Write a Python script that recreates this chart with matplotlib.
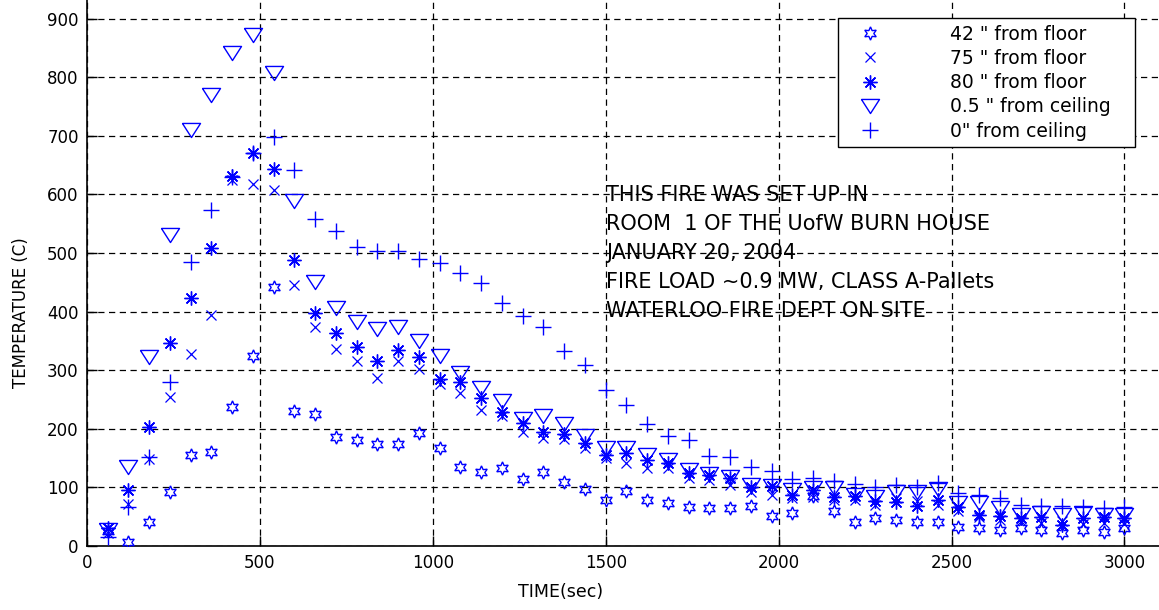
import matplotlib
matplotlib.use("Agg")
import matplotlib.pyplot as plt

plt.rcParams["font.family"] = ["DejaVu Sans"]

# Sample times (s)
time_s = [60, 120, 180, 240, 300, 360, 420, 480, 540, 600,
          660, 720, 780, 840, 900, 960, 1020, 1080, 1140, 1200,
          1260, 1320, 1380, 1440, 1500, 1560, 1620, 1680, 1740, 1800,
          1860, 1920, 1980, 2040, 2100, 2160, 2220, 2280, 2340, 2400,
          2460, 2520, 2580, 2640, 2700, 2760, 2820, 2880, 2940, 3000]

# Thermocouple temperatures (C)
temp_42_floor = [25, 7, 41, 93, 155, 161, 237, 324, 442, 230,
                 225, 186, 181, 174, 174, 193, 167, 135, 127, 133,
                 114, 127, 110, 97, 79, 94, 79, 74, 67, 65,
                 65, 68, 51, 56, 86, 60, 41, 48, 44, 41,
                 41, 33, 31, 27, 31, 27, 22, 27, 24, 31]
temp_75_floor = [22, 72, 148, 254, 328, 394, 625, 618, 607, 445,
                 374, 336, 316, 287, 315, 302, 276, 261, 232, 221,
                 195, 184, 183, 167, 150, 142, 133, 133, 116, 113,
                 104, 93, 87, 82, 84, 79, 79, 70, 82, 76,
                 70, 60, 50, 45, 42, 40, 42, 38, 40, 38]
temp_80_floor = [30, 96, 203, 346, 423, 508, 632, 671, 643, 488,
                 397, 363, 340, 316, 334, 322, 285, 280, 252, 229,
                 210, 195, 191, 176, 155, 159, 147, 142, 124, 121,
                 116, 101, 102, 87, 96, 83, 85, 76, 75, 68,
                 79, 67, 53, 51, 48, 49, 36, 48, 50, 48]
temp_05_ceiling = [28, 135, 322, 531, 710, 770, 841, 872, 807, 589,
                   450, 406, 382, 371, 374, 349, 324, 296, 270, 248,
                   217, 222, 208, 187, 167, 167, 155, 147, 130, 123,
                   118, 104, 102, 96, 99, 99, 87, 84, 93, 93,
                   98, 73, 73, 65, 53, 56, 53, 56, 53, 53]
temp_0_ceiling = [15, 67, 152, 280, 485, 573, 630, 670, 698, 641,
                  558, 537, 510, 503, 504, 490, 483, 466, 449, 415,
                  392, 373, 332, 309, 266, 241, 208, 188, 181, 154,
                  152, 135, 128, 114, 116, 111, 106, 101, 104, 101,
                  108, 91, 87, 82, 70, 68, 68, 67, 65, 67]

series_labels = ['42 " from floor', '75 " from floor', '80 " from floor',
                 '0.5 " from ceiling', '0" from ceiling']

x_ticks = [0, 500, 1000, 1500, 2000, 2500, 3000]
y_ticks = [0, 100, 200, 300, 400, 500, 600, 700, 800, 900]

note_lines = ["THIS FIRE WAS SET UP IN",
              "ROOM  1 OF THE UofW BURN HOUSE",
              "JANUARY 20, 2004",
              "FIRE LOAD ~0.9 MW, CLASS A-Pallets",
              "WATERLOO FIRE DEPT ON SITE"]

W, H = 1159, 610
fig = plt.figure(figsize=(W / 100, H / 100), dpi=100)
# The axes run past the right and top edges of the figure
ax = fig.add_axes([87 / W, 64 / H, 1210.4 / W, 586 / H])

blue = (0, 0, 1)
tri_down = [(-0.5, 0.39), (0.5, 0.39), (0.0, -0.39), (-0.5, 0.39)]
styles = [
    dict(marker=(6, 1, 0), ms=9.5, mfc="none", mew=1.0),
    dict(marker="x", ms=6.5, mew=0.9),
    dict(marker=(8, 2, 0), ms=10, mew=1.0),
    dict(marker=tri_down, ms=13, mfc="none", mew=1.0),
    dict(marker="+", ms=11, mew=1.0),
]
series = [temp_42_floor, temp_75_floor, temp_80_floor,
          temp_05_ceiling, temp_0_ceiling]

handles = []
for vals, lab, st in zip(series, series_labels, styles):
    h, = ax.plot(time_s, vals, linestyle="none", color=blue,
                 label=lab, zorder=4, **st)
    handles.append(h)

ax.set_xlim(0, 3500)
ax.set_ylim(0, 1000)
ax.set_xticks(x_ticks)
ax.set_yticks(y_ticks)
ax.tick_params(direction="in", length=7, width=1.0, labelsize=12,
               top=True, right=True, pad=6, colors="black")
ax.grid(True, color="black", linestyle=(0, (5, 3.6)), linewidth=0.9)
for sp in ax.spines.values():
    sp.set_linewidth(1.2)
    sp.set_color("black")

ax.set_xlabel("TIME(sec)", fontsize=12.5)
ax.set_ylabel("TEMPERATURE (C)", fontsize=12)
ax.xaxis.set_label_coords(0.391, -0.063)
ax.yaxis.set_label_coords(-0.047, 0.399)

ax.text(1500, 500, "\n".join(note_lines), ha="left", va="center",
        fontsize=15, linespacing=1.55, color="black", zorder=1)

leg = ax.legend(handles=handles, loc="upper left", mode="expand",
                bbox_to_anchor=(838 / W, (H - 163) / H, 297 / W, 145 / H),
                bbox_transform=fig.transFigure, borderaxespad=0,
                fontsize=13.5, borderpad=0.35, handlelength=2.7,
                handletextpad=2.9, labelspacing=0.28, fancybox=False,
                framealpha=1, edgecolor="black", numpoints=1)
leg.get_frame().set_linewidth(1.0)

fig.savefig("out.png", dpi=100)
